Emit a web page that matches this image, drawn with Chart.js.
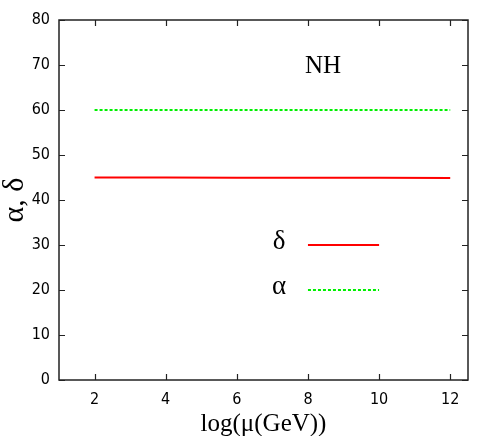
<!DOCTYPE html>
<html>
<head>
<meta charset="utf-8">
<script src="https://cdn.jsdelivr.net/npm/chart.js@4.4.1/dist/chart.umd.min.js"></script>
<style>
  body { margin: 0; background: #fff; }
  #box { width: 491px; height: 436px; }
</style>
</head>
<body>
<div id="box"><canvas id="grafico"></canvas></div>
<script>
// log(mu / GeV)
var logMu = [2, 4, 6, 8, 10, 12];
var delta = [45.0, 45.0, 44.97, 44.95, 44.92, 44.88];
var alpha = [60, 60, 60, 60, 60, 60];

var xTicks = [2, 4, 6, 8, 10, 12];
var yTicks = [0, 10, 20, 30, 40, 50, 60, 70, 80];

// legend samples sit in data space, like gnuplot's key
var legendRows = [
    { label: "δ", y: 30 },
    { label: "α", y: 20 }
];
var legendFrom = 8, legendTo = 10;

var tickFont = { family: "'Liberation Sans Narrow', 'DejaVu Sans Condensed', 'Liberation Sans', sans-serif", size: 16 };
var serif = "'Liberation Serif', 'DejaVu Serif', serif";

function points(ys) {
    return logMu.map(function (x, i) { return { x: x, y: ys[i] }; });
}

var styles = [
    { borderColor: "#ff0000", borderWidth: 2, borderDash: [] },
    { borderColor: "#00f000", borderWidth: 2, borderDash: [3, 2] }
];

var data = {
    datasets: [{
        label: "δ",
        data: points(delta),
        borderColor: styles[0].borderColor,
        borderWidth: styles[0].borderWidth,
        pointRadius: 0,
        fill: false
    }, {
        label: "α",
        data: points(alpha),
        borderColor: styles[1].borderColor,
        borderWidth: styles[1].borderWidth,
        borderDash: styles[1].borderDash,
        pointRadius: 0,
        fill: false
    }]
};

var framePlugin = {
    id: "frame",
    afterDatasetsDraw: function (chart) {
        var c = chart.ctx, a = chart.chartArea;
        var xs = chart.scales.x, ys = chart.scales.y;
        c.save();
        c.strokeStyle = "#222";
        c.lineWidth = 1.5;
        c.strokeRect(a.left, a.top, a.right - a.left, a.bottom - a.top);
        c.lineWidth = 1.2;
        c.beginPath();
        xTicks.forEach(function (v) {
            var px = Math.round(xs.getPixelForValue(v)) + 0.5;
            c.moveTo(px, a.bottom); c.lineTo(px, a.bottom - 6);
            c.moveTo(px, a.top); c.lineTo(px, a.top + 6);
        });
        yTicks.forEach(function (v) {
            var py = Math.round(ys.getPixelForValue(v)) + 0.5;
            c.moveTo(a.left, py); c.lineTo(a.left + 6, py);
            c.moveTo(a.right, py); c.lineTo(a.right - 6, py);
        });
        c.stroke();

        // NH label
        c.fillStyle = "#000";
        c.font = "25px " + serif;
        c.textAlign = "center";
        c.textBaseline = "middle";
        c.fillText("NH", 323, 66);

        // key
        legendRows.forEach(function (row, i) {
            var py = ys.getPixelForValue(row.y);
            c.fillStyle = "#000";
            c.font = "27px " + serif;
            c.textAlign = "center";
            c.fillText(row.label, 279, py - 3);
            c.strokeStyle = styles[i].borderColor;
            c.lineWidth = styles[i].borderWidth;
            c.setLineDash(styles[i].borderDash);
            c.beginPath();
            c.moveTo(xs.getPixelForValue(legendFrom), py);
            c.lineTo(xs.getPixelForValue(legendTo), py);
            c.stroke();
            c.setLineDash([]);
        });
        c.restore();
    }
};

var options = {
    responsive: true,
    maintainAspectRatio: false,
    animation: false,
    layout: { padding: { top: 20, right: 23, left: 0, bottom: 0 } },
    plugins: { legend: { display: false }, tooltip: { enabled: false } },
    scales: {
        x: {
            type: "linear",
            min: 1,
            max: 12.5,
            grid: { display: false },
            border: { display: false },
            afterBuildTicks: function (s) { s.ticks = xTicks.map(function (v) { return { value: v }; }); },
            afterFit: function (s) { s.height = 56; },
            ticks: { color: "#000", font: tickFont, padding: 2, maxRotation: 0 },
            title: { display: true, text: "log(μ(GeV))", color: "#000", font: { family: serif, size: 25, lineHeight: 0.9 }, padding: 0 }
        },
        y: {
            min: 0,
            max: 80,
            grid: { display: false },
            border: { display: false },
            afterBuildTicks: function (s) { s.ticks = yTicks.map(function (v) { return { value: v }; }); },
            afterFit: function (s) { s.width = 59; },
            ticks: { color: "#000", font: tickFont, padding: 1 },
            title: { display: true, text: "α, δ", color: "#000", font: { family: serif, size: 30, lineHeight: 1 }, padding: 0 }
        }
    }
};

var ctx = document.querySelector('#grafico').getContext('2d');
var lineChart = new Chart(ctx, {
    type: "line",
    data: data,
    options: options,
    plugins: [framePlugin]
});
</script>
</body>
</html>
